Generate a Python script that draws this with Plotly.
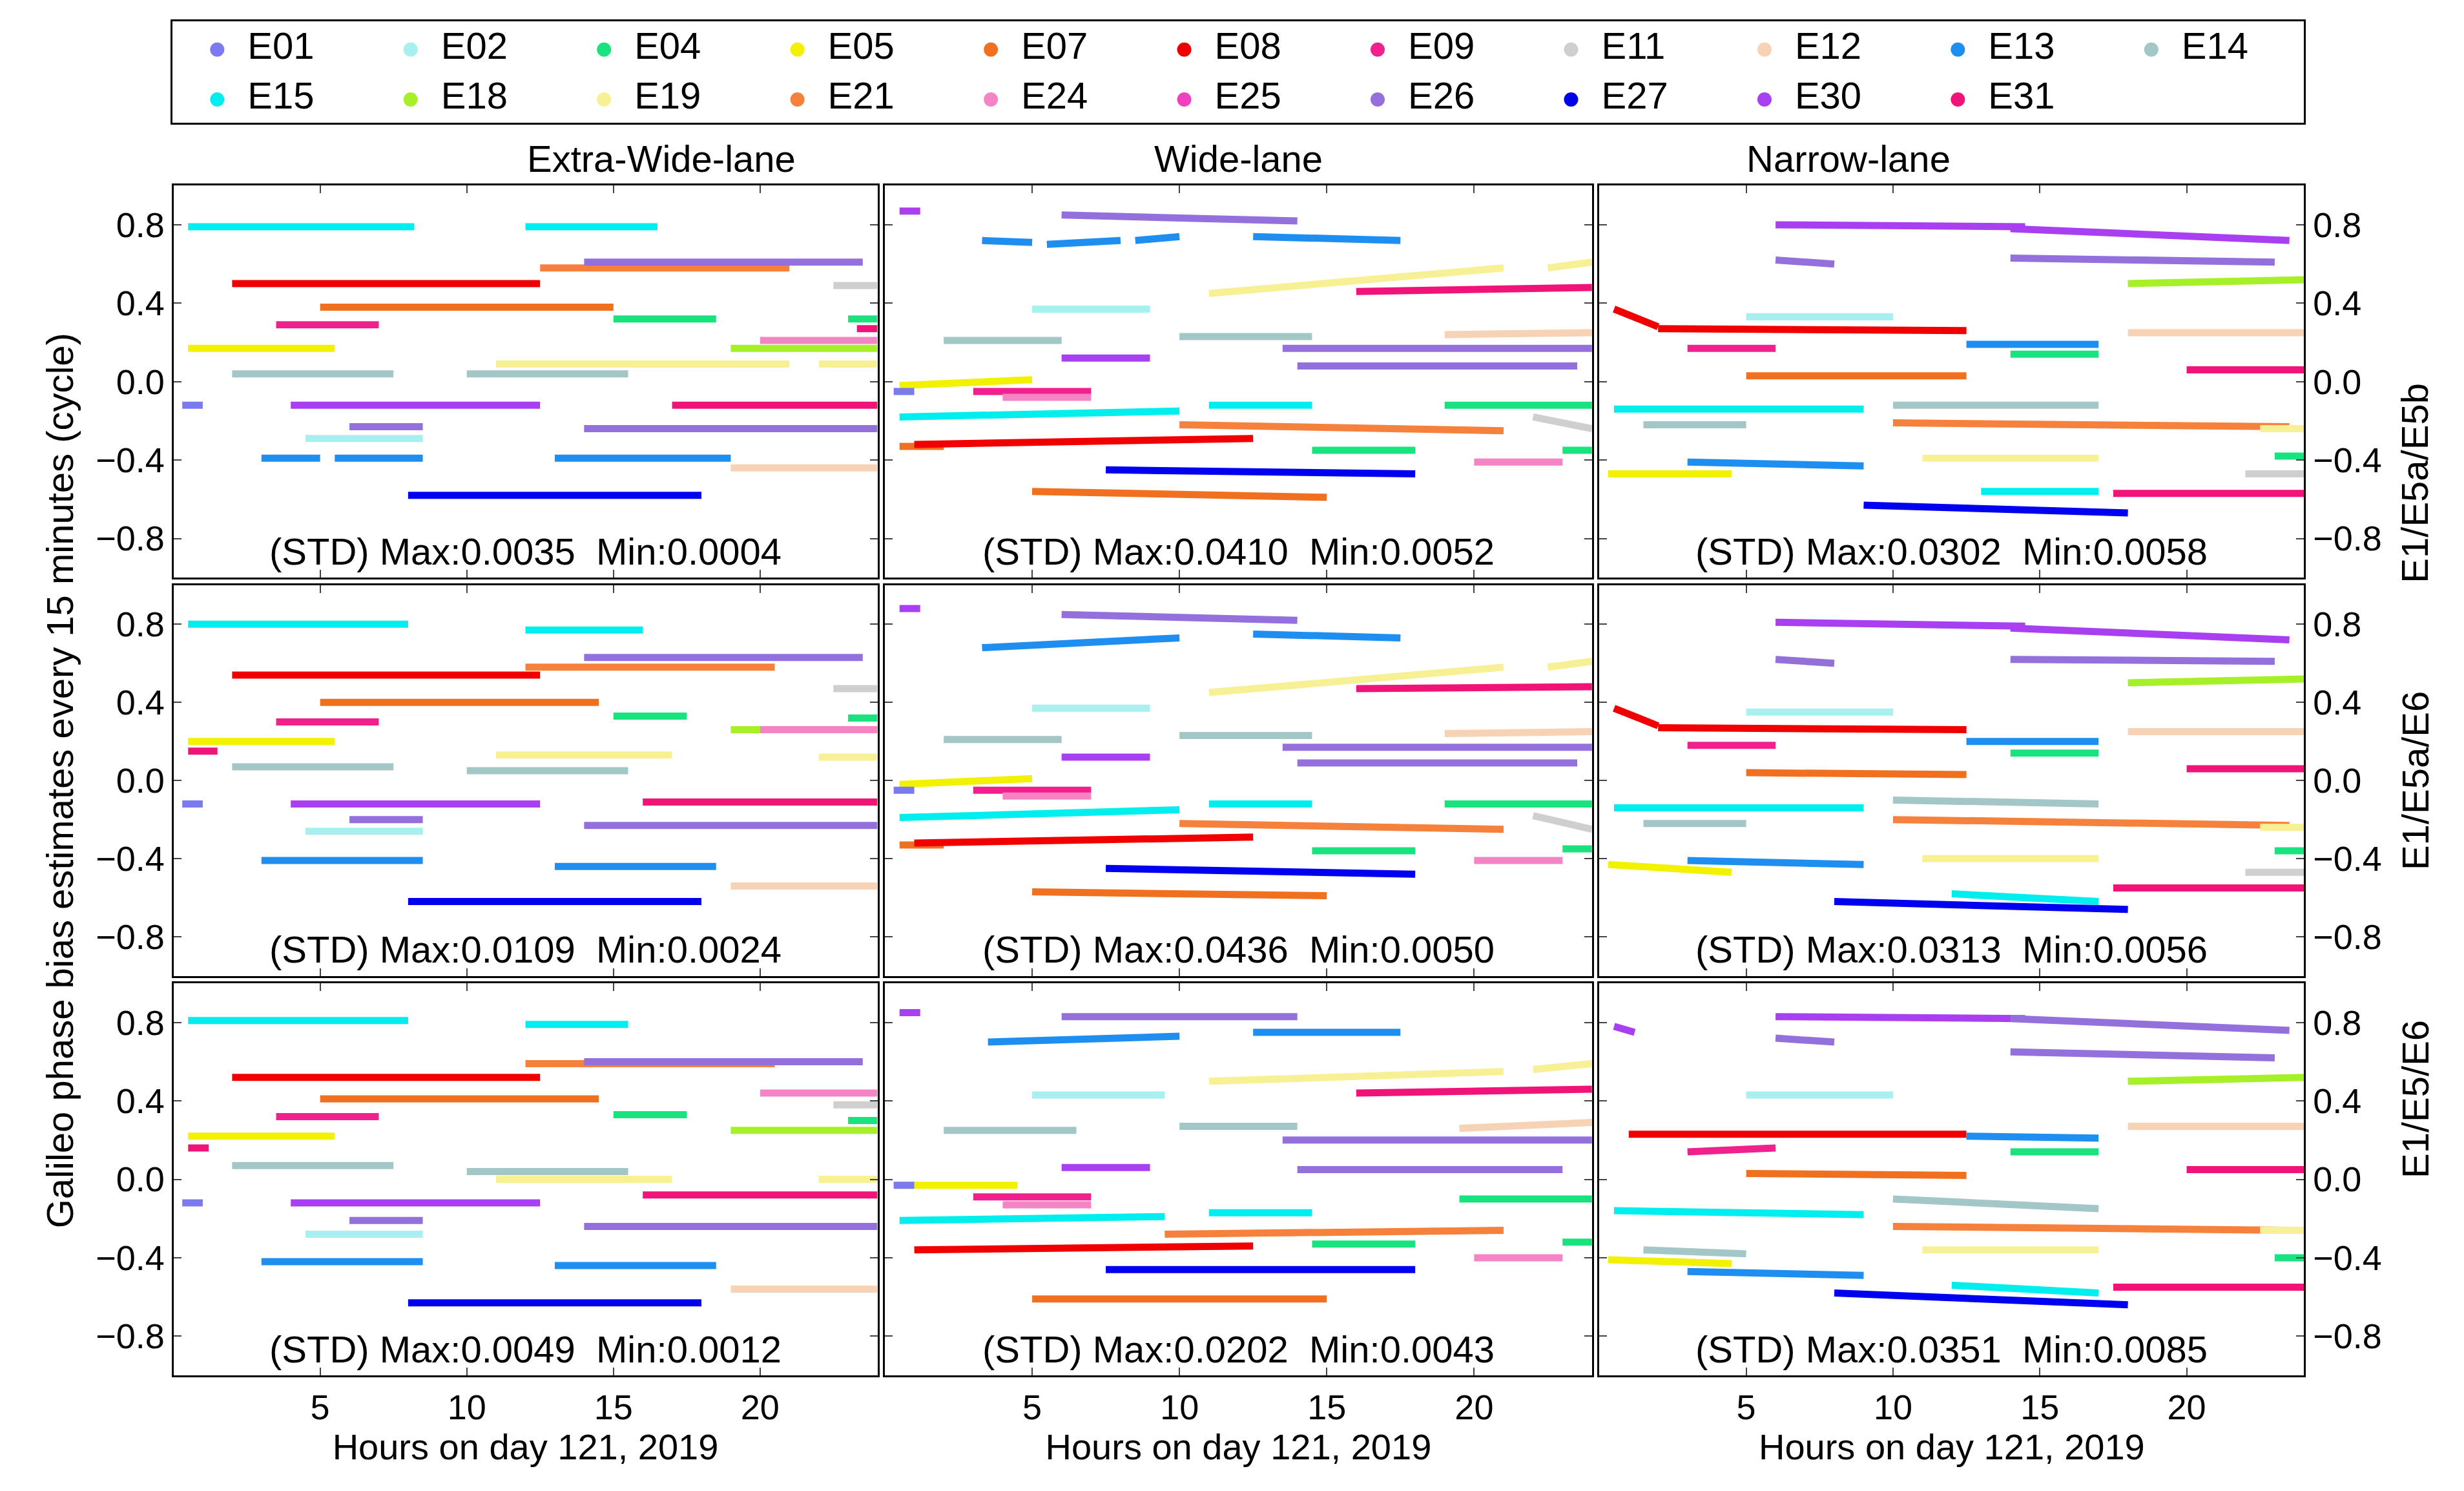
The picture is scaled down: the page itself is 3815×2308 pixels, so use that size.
import plotly.graph_objects as go

sats = ["E01","E02","E04","E05","E07","E08","E09","E11","E12","E13","E14",
        "E15","E18","E19","E21","E24","E25","E26","E27","E30","E31"]
colors = {"E01":"#7b7bef","E02":"#a8f0f0","E04":"#19e37f","E05":"#f2f200","E07":"#f07020",
          "E08":"#f00000","E09":"#f0208c","E11":"#cfcfcf","E12":"#f8d2b4","E13":"#1e8ff0",
          "E14":"#a3c6c6","E15":"#00eeee","E18":"#a6f028","E19":"#f8f094","E21":"#f5813c",
          "E24":"#f484c4","E25":"#f040c0","E26":"#9370db","E27":"#0000f0","E30":"#a83ff0",
          "E31":"#f01478"}

cols = ["Extra-Wide-lane", "Wide-lane", "Narrow-lane"]
rows = ["E1/E5a/E5b", "E1/E5a/E6", "E1/E5/E6"]
std_text = [["(STD) Max:0.0035  Min:0.0004","(STD) Max:0.0410  Min:0.0052","(STD) Max:0.0302  Min:0.0058"],
            ["(STD) Max:0.0109  Min:0.0024","(STD) Max:0.0436  Min:0.0050","(STD) Max:0.0313  Min:0.0056"],
            ["(STD) Max:0.0049  Min:0.0012","(STD) Max:0.0202  Min:0.0043","(STD) Max:0.0351  Min:0.0085"]]

# segments: (sat, start hour, end hour, value at start, value at end)
ewl_1 = [("E15",0.5,8.2,0.79,0.79),("E15",12,16.5,0.79,0.79),("E08",2,12.5,0.50,0.50),
         ("E21",12.5,21,0.58,0.58),("E07",5,15,0.38,0.38),("E26",14,23.5,0.61,0.61),
         ("E11",22.5,24,0.49,0.49),("E09",3.5,7,0.29,0.29),("E04",15,18.5,0.32,0.32),
         ("E04",23,24,0.32,0.32),("E24",20,24,0.21,0.21),("E05",0.5,5.5,0.17,0.17),
         ("E18",19,24,0.17,0.17),("E19",11,21,0.09,0.09),("E19",22,24,0.09,0.09),
         ("E14",2,7.5,0.04,0.04),("E14",10,15.5,0.04,0.04),("E01",0.3,1,-0.12,-0.12),
         ("E30",4,12.5,-0.12,-0.12),("E31",17,24,-0.12,-0.12),("E26",6,8.5,-0.23,-0.23),
         ("E26",14,24,-0.24,-0.24),("E02",4.5,8.5,-0.29,-0.29),("E13",3,5,-0.39,-0.39),
         ("E13",5.5,8.5,-0.39,-0.39),("E13",13,19,-0.39,-0.39),("E12",19,24,-0.44,-0.44),
         ("E27",8,18,-0.58,-0.58),("E31",23.3,24,0.27,0.27)]
ewl_2 = [("E15",0.5,8,0.80,0.80),("E15",12,16,0.77,0.77),("E08",2,12.5,0.54,0.54),
         ("E21",12,20.5,0.58,0.58),("E07",5,14.5,0.40,0.40),("E26",14,23.5,0.63,0.63),
         ("E11",22.5,24,0.47,0.47),("E09",3.5,7,0.30,0.30),("E04",15,17.5,0.33,0.33),
         ("E04",23,24,0.32,0.32),("E18",19,24,0.26,0.26),("E24",20,24,0.26,0.26),
         ("E05",0.5,5.5,0.20,0.20),("E31",0.5,1.5,0.15,0.15),("E01",0.3,1,-0.12,-0.12),
         ("E19",11,17,0.13,0.13),("E19",22,24,0.12,0.12),("E14",2,7.5,0.07,0.07),
         ("E14",10,15.5,0.05,0.05),("E30",4,12.5,-0.12,-0.12),("E31",16,24,-0.11,-0.11),
         ("E26",6,8.5,-0.20,-0.20),("E26",14,24,-0.23,-0.23),("E02",4.5,8.5,-0.26,-0.26),
         ("E13",3,8.5,-0.41,-0.41),("E13",13,18.5,-0.44,-0.44),("E12",19,24,-0.54,-0.54),
         ("E27",8,18,-0.62,-0.62)]
ewl_3 = [("E15",0.5,8,0.81,0.81),("E15",12,15.5,0.79,0.79),("E08",2,12.5,0.52,0.52),
         ("E21",12,20.5,0.59,0.59),("E07",5,14.5,0.41,0.41),("E26",14,23.5,0.60,0.60),
         ("E24",20,24,0.44,0.44),("E11",22.5,24,0.38,0.38),("E09",3.5,7,0.32,0.32),
         ("E04",15,17.5,0.33,0.33),("E04",23,24,0.30,0.30),("E18",19,24,0.25,0.25),
         ("E05",0.5,5.5,0.22,0.22),("E31",0.5,1.2,0.16,0.16),("E19",11,17,0.00,0.00),
         ("E19",22,24,0.00,0.00),("E14",2,7.5,0.07,0.07),("E14",10,15.5,0.04,0.04),
         ("E01",0.3,1,-0.12,-0.12),("E30",4,12.5,-0.12,-0.12),("E31",16,24,-0.08,-0.08),
         ("E26",6,8.5,-0.21,-0.21),("E26",14,24,-0.24,-0.24),("E02",4.5,8.5,-0.28,-0.28),
         ("E13",3,8.5,-0.42,-0.42),("E13",13,18.5,-0.44,-0.44),("E12",19,24,-0.56,-0.56),
         ("E27",8,18,-0.63,-0.63)]
wl_1 = [("E30",0.5,1.2,0.87,0.87),("E26",6,14,0.85,0.82),("E13",3.3,5,0.72,0.71),
        ("E13",5.5,8,0.70,0.72),("E13",8.5,10,0.72,0.74),("E13",12.5,17.5,0.74,0.72),
        ("E31",16,24,0.46,0.48),("E19",11,21,0.45,0.58),("E19",22.5,24,0.58,0.61),
        ("E02",5,9,0.37,0.37),("E14",2,6,0.21,0.21),("E14",10,14.5,0.23,0.23),
        ("E12",19,24,0.24,0.25),("E26",13.5,24,0.17,0.17),("E26",14,23.5,0.08,0.08),
        ("E30",6,9,0.12,0.12),("E05",0.5,5,-0.02,0.01),("E04",19,24,-0.12,-0.12),
        ("E09",3,7,-0.05,-0.05),("E24",4,7,-0.08,-0.08),("E15",0.5,10,-0.18,-0.15),
        ("E15",11,14.5,-0.12,-0.12),("E21",10,21,-0.22,-0.25),("E01",0.3,1,-0.05,-0.05),
        ("E07",0.5,2,-0.33,-0.33),("E08",1,12.5,-0.32,-0.29),("E04",14.5,18,-0.35,-0.35),
        ("E11",22,24,-0.18,-0.24),("E24",20,23,-0.41,-0.41),("E04",23,24,-0.35,-0.35),
        ("E27",7.5,18,-0.45,-0.47),("E07",5,15,-0.56,-0.59)]
wl_2 = [("E30",0.5,1.2,0.88,0.88),("E26",6,14,0.85,0.82),("E13",3.3,10,0.68,0.73),
        ("E13",12.5,17.5,0.75,0.73),("E31",16,24,0.47,0.48),("E19",11,21,0.45,0.58),
        ("E19",22.5,24,0.58,0.61),("E02",5,9,0.37,0.37),("E14",2,6,0.21,0.21),
        ("E14",10,14.5,0.23,0.23),("E12",19,24,0.24,0.25),("E26",13.5,24,0.17,0.17),
        ("E26",14,23.5,0.09,0.09),("E30",6,9,0.12,0.12),("E05",0.5,5,-0.02,0.01),
        ("E04",19,24,-0.12,-0.12),("E09",3,7,-0.05,-0.05),("E24",4,7,-0.08,-0.08),
        ("E15",0.5,10,-0.19,-0.15),("E15",11,14.5,-0.12,-0.12),("E21",10,21,-0.22,-0.25),
        ("E01",0.3,1,-0.05,-0.05),("E07",0.5,2,-0.33,-0.33),("E08",1,12.5,-0.32,-0.29),
        ("E04",14.5,18,-0.36,-0.36),("E11",22,24,-0.18,-0.25),("E24",20,23,-0.41,-0.41),
        ("E04",23,24,-0.35,-0.35),("E27",7.5,18,-0.45,-0.48),("E07",5,15,-0.57,-0.59)]
wl_3 = [("E30",0.5,1.2,0.85,0.85),("E26",6,14,0.83,0.83),("E13",3.5,10,0.70,0.73),
        ("E13",12.5,17.5,0.75,0.75),("E31",16,24,0.44,0.46),("E19",11,21,0.50,0.55),
        ("E19",22,24,0.56,0.59),("E02",5,9.5,0.43,0.43),("E14",2,6.5,0.25,0.25),
        ("E14",10,14,0.27,0.27),("E12",19.5,24,0.26,0.29),("E26",13.5,24,0.20,0.20),
        ("E30",6,9,0.06,0.06),("E26",14,23,0.05,0.05),("E05",0.5,4.5,-0.03,-0.03),
        ("E04",19.5,24,-0.10,-0.10),("E09",3,7,-0.09,-0.09),("E24",4,7,-0.13,-0.13),
        ("E15",0.5,9.5,-0.21,-0.19),("E15",11,14.5,-0.17,-0.17),("E21",9.5,21,-0.28,-0.26),
        ("E01",0.3,1,-0.03,-0.03),("E08",1,12.5,-0.36,-0.34),("E04",14.5,18,-0.33,-0.33),
        ("E24",20,23,-0.40,-0.40),("E04",23,24,-0.32,-0.32),("E27",7.5,18,-0.46,-0.46),
        ("E07",5,15,-0.61,-0.61)]
nl_1 = [("E30",6,14.5,0.80,0.79),("E30",14,23.5,0.78,0.72),("E26",6,8,0.62,0.60),
        ("E26",14,23,0.63,0.61),("E18",18,24,0.50,0.52),("E08",0.5,2,0.37,0.28),
        ("E08",2,12.5,0.27,0.26),("E02",5,10,0.33,0.33),("E12",18,24,0.25,0.25),
        ("E13",12.5,17,0.19,0.19),("E09",3,6,0.17,0.17),("E04",14,17,0.14,0.14),
        ("E07",5,12.5,0.03,0.03),("E31",20,24,0.06,0.06),("E14",10,17,-0.12,-0.12),
        ("E14",1.5,5,-0.22,-0.22),("E15",0.5,9,-0.14,-0.14),("E21",10,23.5,-0.21,-0.23),
        ("E19",22.5,24,-0.24,-0.24),("E05",0.3,4.5,-0.47,-0.47),("E13",3,9,-0.41,-0.43),
        ("E19",11,17,-0.39,-0.39),("E04",23,24,-0.38,-0.38),("E11",22,24,-0.47,-0.47),
        ("E15",13,17,-0.56,-0.56),("E27",9,18,-0.63,-0.67),("E31",17.5,24,-0.57,-0.57)]
nl_2 = [("E30",6,14.5,0.81,0.79),("E30",14,23.5,0.78,0.72),("E26",6,8,0.62,0.60),
        ("E26",14,23,0.62,0.61),("E18",18,24,0.50,0.52),("E08",0.5,2,0.37,0.28),
        ("E08",2,12.5,0.27,0.26),("E02",5,10,0.35,0.35),("E12",18,24,0.25,0.25),
        ("E13",12.5,17,0.20,0.20),("E09",3,6,0.18,0.18),("E04",14,17,0.14,0.14),
        ("E07",5,12.5,0.04,0.03),("E31",20,24,0.06,0.06),("E14",10,17,-0.10,-0.12),
        ("E14",1.5,5,-0.22,-0.22),("E15",0.5,9,-0.14,-0.14),("E21",10,23.5,-0.20,-0.23),
        ("E19",22.5,24,-0.24,-0.24),("E05",0.3,4.5,-0.43,-0.47),("E13",3,9,-0.41,-0.43),
        ("E19",11,17,-0.40,-0.40),("E04",23,24,-0.36,-0.36),("E11",22,24,-0.47,-0.47),
        ("E15",12,17,-0.58,-0.62),("E27",8,18,-0.62,-0.66),("E31",17.5,24,-0.55,-0.55)]
nl_3 = [("E30",0.5,1.2,0.78,0.75),("E30",6,14.5,0.83,0.82),("E26",14,23.5,0.82,0.76),
        ("E26",6,8,0.72,0.70),("E26",14,23,0.65,0.62),("E18",18,24,0.50,0.52),
        ("E08",1,12.5,0.23,0.23),("E02",5,10,0.43,0.43),("E12",18,24,0.27,0.27),
        ("E13",12.5,17,0.22,0.21),("E09",3,6,0.14,0.16),("E04",14,17,0.14,0.14),
        ("E07",5,12.5,0.03,0.02),("E31",20,24,0.05,0.05),("E14",10,17,-0.10,-0.15),
        ("E14",1.5,5,-0.36,-0.38),("E15",0.5,9,-0.16,-0.18),("E21",10,23.5,-0.24,-0.26),
        ("E19",22.5,24,-0.26,-0.26),("E05",0.3,4.5,-0.41,-0.43),("E13",3,9,-0.47,-0.49),
        ("E19",11,17,-0.36,-0.36),("E04",23,24,-0.40,-0.40),("E11",22,24,-0.55,-0.55),
        ("E15",12,17,-0.54,-0.58),("E27",8,18,-0.58,-0.64),("E31",17.5,24,-0.55,-0.55)]
panels = [[ewl_1, wl_1, nl_1], [ewl_2, wl_2, nl_2], [ewl_3, wl_3, nl_3]]

xdom = [(0.0683, 0.354), (0.357, 0.644), (0.647, 0.933)]
ydom = [(0.616, 0.879), (0.349, 0.611), (0.081, 0.344)]
FONT = "Liberation Sans"
LEG_COLS = 11

fig = go.Figure()
lay = {}
for r in range(3):
    for c in range(3):
        i = r * 3 + c + 1
        xa = "x" if i == 1 else f"x{i}"
        ya = "y" if i == 1 else f"y{i}"
        for (s, t0, t1, v0, v1) in panels[r][c]:
            fig.add_trace(go.Scatter(x=[t0, t1], y=[v0, v1], mode="lines",
                                     line=dict(color=colors[s], width=11),
                                     showlegend=False, xaxis=xa, yaxis=ya, hoverinfo="skip"))
        ax = dict(domain=list(xdom[c]), range=[0, 24], anchor=ya, tickvals=[5, 10, 15, 20],
                  showticklabels=(r == 2), ticks="inside", ticklen=12, tickwidth=2,
                  mirror="allticks", showline=True, linecolor="black", linewidth=3,
                  showgrid=False, zeroline=False, tickfont=dict(size=54, family=FONT, color="black"))
        if r == 2:
            ax["title"] = dict(text="Hours on day 121, 2019", font=dict(size=56, family=FONT, color="black"), standoff=8)
        ay = dict(domain=list(ydom[r]), range=[-1, 1], anchor=xa,
                  tickvals=[-0.8, -0.4, 0, 0.4, 0.8], ticktext=["\u22120.8", "\u22120.4", "0.0", "0.4", "0.8"],
                  showticklabels=(c != 1), side=("right" if c == 2 else "left"),
                  ticks="inside", ticklen=12, tickwidth=2, mirror="allticks", showline=True,
                  linecolor="black", linewidth=3, showgrid=False, zeroline=False,
                  tickfont=dict(size=54, family=FONT, color="black"))
        lay["xaxis" if i == 1 else f"xaxis{i}"] = ax
        lay["yaxis" if i == 1 else f"yaxis{i}"] = ay
        fig.add_annotation(xref=f"{xa} domain", yref=f"{ya} domain", x=0.5, y=0.01,
                           xanchor="center", yanchor="bottom", showarrow=False,
                           text=std_text[r][c], font=dict(size=58, family=FONT, color="black"))

# legend drawn on its own axis: column / row index of each satellite
leg_x = [k % LEG_COLS for k in range(len(sats))]
leg_y = [k // LEG_COLS for k in range(len(sats))]
fig.add_trace(go.Scatter(x=leg_x, y=leg_y, mode="markers+text", text=["  " + s for s in sats],
                         textposition="middle right", textfont=dict(size=58, family=FONT, color="black"),
                         marker=dict(color=[colors[s] for s in sats], size=22),
                         showlegend=False, xaxis="x10", yaxis="y10", hoverinfo="skip"))
lay["xaxis10"] = dict(domain=[0.068, 0.933], range=[-0.23, 10.79], anchor="y10", showline=True,
                      mirror=True, linecolor="black", linewidth=3, showgrid=False, zeroline=False,
                      showticklabels=False, ticks="")
lay["yaxis10"] = dict(domain=[0.921, 0.989], range=[1.47, -0.56], anchor="x10", showline=True,
                      mirror=True, linecolor="black", linewidth=3, showgrid=False, zeroline=False,
                      showticklabels=False, ticks="")

for c in range(3):
    fig.add_annotation(xref="paper", yref="paper", x=sum(xdom[c]) / 2, y=0.882, yanchor="bottom",
                       showarrow=False, text=cols[c], font=dict(size=58, family=FONT, color="black"))
for r in range(3):
    fig.add_annotation(xref="paper", yref="paper", x=0.987, y=sum(ydom[r]) / 2, textangle=-90,
                       showarrow=False, text=rows[r], font=dict(size=58, family=FONT, color="black"))
fig.add_annotation(xref="paper", yref="paper", x=0.013, y=0.48, textangle=-90, showarrow=False,
                   text="Galileo phase bias estimates every 15 minutes (cycle)",
                   font=dict(size=58, family=FONT, color="black"))

fig.update_layout(**lay)
fig.update_layout(width=3815, height=2308, margin=dict(l=0, r=0, t=0, b=0),
                  plot_bgcolor="white", paper_bgcolor="white",
                  font=dict(family=FONT, color="black"), showlegend=False)
fig.write_html("out.html")
